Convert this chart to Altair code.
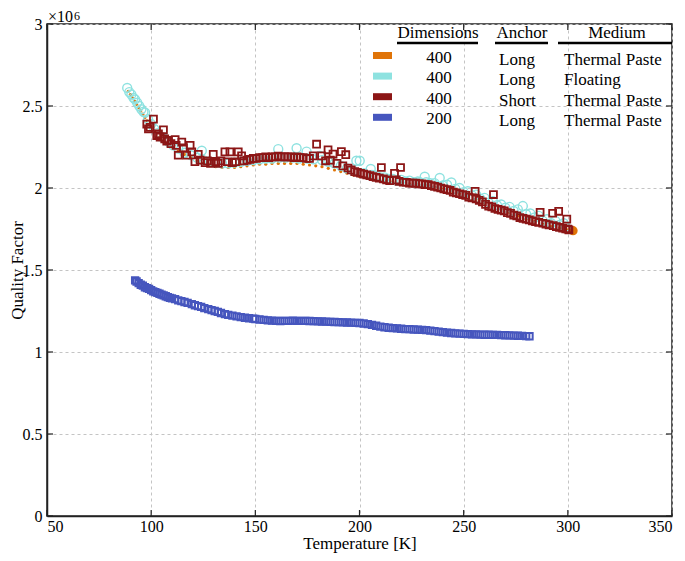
import altair as alt
import pandas as pd

# ---------------- data (Q in units of 1e6) ----------------
orange_T = [89, 90, 91, 92, 93, 94, 95, 96, 97, 98, 99, 100, 102, 104, 106, 108, 110, 113, 116, 119,
            122, 125, 128, 131, 134, 137, 140, 143, 146, 149, 152, 155, 158, 161, 164, 167, 170, 173,
            176, 179, 182, 185, 188, 191, 194, 197, 200, 204, 208, 212, 216, 220, 224, 228, 232, 236,
            240, 244, 248, 252, 256, 260, 264, 268, 272, 276, 280, 284, 288, 292, 296, 300]
orange_Q = [2.59, 2.57, 2.55, 2.53, 2.51, 2.49, 2.47, 2.45, 2.43, 2.41, 2.39, 2.37, 2.34, 2.31, 2.29,
            2.27, 2.25, 2.225, 2.205, 2.185, 2.165, 2.15, 2.14, 2.13, 2.125, 2.125, 2.125, 2.13, 2.135,
            2.14, 2.145, 2.145, 2.15, 2.15, 2.15, 2.15, 2.15, 2.145, 2.14, 2.135, 2.13, 2.12, 2.11,
            2.10, 2.09, 2.08, 2.07, 2.06, 2.05, 2.045, 2.04, 2.03, 2.025, 2.02, 2.015, 2.005, 1.995,
            1.98, 1.965, 1.95, 1.93, 1.91, 1.89, 1.87, 1.85, 1.83, 1.81, 1.795, 1.78, 1.765, 1.755, 1.745]
orange_end_T = [302.5]
orange_end_Q = [1.74]

cyan_T = [88.5, 89.5, 90.5, 91.5, 92.3, 93.3, 94.3, 95.3, 96.3, 97.1, 98.5, 100, 101.5, 103, 104.5,
          106.7, 108.5, 110.5, 113, 116, 119, 122, 124.3, 125, 128, 131, 134, 137, 140, 143, 146, 149,
          152, 155, 158, 161, 161.5, 164.5, 168, 169.8, 171, 174.6, 175, 178, 181, 182, 185, 188, 191,
          194, 197, 198.5, 200.1, 202, 205.4, 206, 210, 214, 218, 222, 226, 229, 231.3, 234, 238.5,
          240, 244.1, 246, 250, 254, 258, 262, 266, 270, 274, 278.4, 280, 284, 288, 292, 296, 299,
          208, 212, 216, 220, 224, 228, 232, 236, 242, 248, 252, 256, 260, 264, 268, 272, 276, 282,
          286, 290, 294, 298]
cyan_Q = [2.61, 2.585, 2.57, 2.55, 2.54, 2.52, 2.50, 2.48, 2.465, 2.46, 2.42, 2.39, 2.36, 2.335, 2.315,
          2.30, 2.28, 2.26, 2.24, 2.215, 2.20, 2.185, 2.227, 2.17, 2.16, 2.155, 2.15, 2.15, 2.155, 2.16,
          2.165, 2.17, 2.175, 2.18, 2.18, 2.237, 2.185, 2.185, 2.185, 2.243, 2.18, 2.222, 2.18, 2.175,
          2.196, 2.17, 2.16, 2.15, 2.135, 2.12, 2.105, 2.166, 2.166, 2.09, 2.116, 2.08, 2.065, 2.055,
          2.045, 2.04, 2.035, 2.035, 2.069, 2.03, 2.061, 2.015, 2.034, 1.995, 1.975, 1.955, 1.935,
          1.91, 1.895, 1.88, 1.86, 1.89, 1.84, 1.82, 1.80, 1.785, 1.775, 1.765,
          2.075, 2.065, 2.055, 2.05, 2.045, 2.04, 2.035, 2.03, 2.02, 2.0, 1.98, 1.96, 1.94, 1.92,
          1.90, 1.885, 1.87, 1.845, 1.83, 1.81, 1.80, 1.785]

red_T = [97.9, 98.7, 99.5, 101.1, 102.7, 103.5, 104.3, 105.9, 106.5, 107.5, 108.3, 109.5, 111.5, 112.0,
         113.0, 114.7, 115.5, 117.0, 118.7, 119.5, 121.0, 122.6, 123.5, 125.9, 127.0, 128.5, 129.8,
         131.0, 132.2, 133.5, 135.4, 136.5, 137.8, 139.0, 140.5, 141.8, 143.4, 144.5, 146.0, 147.5,
         149.0, 150.5, 152.0, 153.5, 155.0, 156.5, 158.0, 159.5, 161.0, 162.5, 164.0, 165.5, 167.0,
         168.5, 170.0, 171.5, 173.0, 174.5, 176.0, 177.8, 179.4, 181.8, 183.7, 184.9, 186.0, 187.3,
         189.2, 191.3, 192.0, 193.4, 194.5, 196.0, 197.7, 199.0, 200.5, 202.0, 203.5, 205.0, 206.5,
         208.0, 209.5, 210.5, 211.5, 213.0, 214.5, 216.8, 217.6, 219.0, 219.7, 221.0, 222.5, 224.0,
         225.5, 227.0, 228.5, 230.0, 231.5, 233.0, 234.5, 236.0, 237.5, 239.0, 240.5, 242.0, 243.5,
         245.0, 246.5, 248.0, 249.5, 251.0, 252.5, 254.0, 255.5, 256.0, 257.5, 259.0, 260.5, 262.0,
         263.5, 264.3, 265.0, 266.5, 268.0, 269.5, 271.0, 272.5, 274.0, 275.5, 277.0, 278.5, 280.0,
         281.5, 283.0, 284.5, 286.0, 286.7, 288.0, 289.5, 291.0, 292.7, 293.0, 294.5, 295.6, 296.0,
         297.5, 299.0, 299.5, 300.0, 300.5]
red_Q = [2.39, 2.36, 2.37, 2.42, 2.32, 2.33, 2.31, 2.355, 2.30, 2.285, 2.29, 2.27, 2.295, 2.26, 2.20,
         2.28, 2.245, 2.20, 2.26, 2.22, 2.16, 2.205, 2.17, 2.155, 2.165, 2.15, 2.205, 2.16, 2.15, 2.165,
         2.22, 2.16, 2.22, 2.155, 2.16, 2.22, 2.196, 2.165, 2.17, 2.175, 2.18, 2.18, 2.185, 2.185, 2.19,
         2.185, 2.19, 2.19, 2.195, 2.19, 2.19, 2.19, 2.19, 2.185, 2.19, 2.185, 2.185, 2.18, 2.18, 2.196,
         2.267, 2.196, 2.166, 2.233, 2.17, 2.207, 2.15, 2.222, 2.135, 2.203, 2.122, 2.11, 2.10, 2.095,
         2.09, 2.085, 2.08, 2.075, 2.07, 2.065, 2.06, 2.125, 2.055, 2.05, 2.045, 2.089, 2.049, 2.04,
         2.125, 2.035, 2.035, 2.03, 2.03, 2.03, 2.025, 2.025, 2.02, 2.02, 2.015, 2.01, 2.005, 2.0,
         1.995, 1.99, 1.985, 1.975, 1.97, 1.965, 1.96, 1.955, 1.945, 1.94, 1.98, 1.933, 1.925, 1.915,
         1.90, 1.89, 1.885, 1.96, 1.875, 1.87, 1.865, 1.86, 1.85, 1.845, 1.835, 1.83, 1.82, 1.815, 1.81,
         1.805, 1.80, 1.795, 1.79, 1.852, 1.785, 1.78, 1.775, 1.846, 1.77, 1.765, 1.858, 1.76, 1.755,
         1.75, 1.81, 1.75, 1.745]

blue_T = [92.3, 93, 94, 95, 96, 97, 98, 99, 100, 101, 102, 103, 104, 105, 106, 107, 108, 109, 110,
          111.5, 113, 114.5, 116, 117.5, 119.5, 121, 122.5, 124, 125.5, 127.4, 129, 130.5, 132, 133.5,
          135.4, 137, 139, 141, 143, 145, 147, 149, 150, 152, 154, 156, 158, 160, 162, 164, 166, 168,
          170, 172, 174, 176, 178, 180, 182, 184, 186, 188, 190, 192, 194, 196, 198, 200, 202, 204,
          206, 208, 210, 212, 214, 216, 218, 220, 222, 224, 226, 228, 230, 232, 234, 236, 238, 240,
          242, 244, 246, 248, 250, 252, 254, 256, 258, 260, 262, 264, 266, 268, 270, 272, 274, 276,
          278, 280, 281.6]
blue_Q = [1.437, 1.43, 1.42, 1.41, 1.405, 1.395, 1.39, 1.385, 1.377, 1.37, 1.365, 1.36, 1.355, 1.35,
          1.345, 1.34, 1.335, 1.33, 1.327, 1.322, 1.315, 1.31, 1.305, 1.30, 1.292, 1.285, 1.28, 1.275,
          1.268, 1.261, 1.255, 1.25, 1.245, 1.238, 1.231, 1.226, 1.222, 1.217, 1.213, 1.209, 1.206,
          1.203, 1.201, 1.198, 1.196, 1.193, 1.191, 1.19, 1.189, 1.19, 1.19, 1.191, 1.19, 1.19, 1.19,
          1.189, 1.188, 1.187, 1.186, 1.185, 1.184, 1.183, 1.182, 1.181, 1.18, 1.179, 1.178, 1.177,
          1.174, 1.17, 1.165, 1.16, 1.155, 1.151, 1.148, 1.146, 1.144, 1.142, 1.14, 1.139, 1.137,
          1.136, 1.135, 1.133, 1.13, 1.127, 1.124, 1.121, 1.118, 1.116, 1.114, 1.112, 1.11, 1.109,
          1.108, 1.107, 1.106, 1.105, 1.105, 1.104, 1.104, 1.103, 1.102, 1.101, 1.1, 1.099, 1.098,
          1.097, 1.096]

x_ticks = [50, 100, 150, 200, 250, 300, 350]
y_ticks = [0, 500000, 1000000, 1500000, 2000000, 2500000, 3000000]

legend_dims = ["400", "400", "400", "200"]
legend_anchor = ["Long", "Long", "Short", "Long"]
legend_medium = ["Thermal Paste", "Floating", "Thermal Paste", "Thermal Paste"]
legend_headers = ["Dimensions", "Anchor", "Medium"]

ORANGE, CYAN, RED, BLUE = "#E07408", "#8EE2E0", "#8C1616", "#4656BE"
series_colors = [ORANGE, CYAN, RED, BLUE]

# ---------------- layout / style ----------------
W, H = 625, 492
TOP = 16
FONT = "Liberation Serif"


def df(T, Q):
    return pd.DataFrame({"T": T, "Q": [q * 1e6 for q in Q]})


def xenc():
    return alt.X("T:Q", scale=alt.Scale(domain=[50, 350], nice=False, zero=False),
                 axis=alt.Axis(values=x_ticks, title="Temperature [K]", titleY=36,
                               titleBaseline="bottom", labelPadding=2,
                               labelFont=FONT, labelFontSize=16, titleFont=FONT, titleFontSize=17))


def yenc():
    return alt.Y("Q:Q", scale=alt.Scale(domain=[0, 3e6], nice=False),
                 axis=alt.Axis(values=y_ticks, title="Quality Factor",
                               labelExpr="format(datum.value / 1000000, '~g')",
                               titleX=-30, titleY=H / 2, titleAngle=-90,
                               titleBaseline="middle", titleAlign="center", labelPadding=5,
                               labelFont=FONT, labelFontSize=16, titleFont=FONT, titleFontSize=17))


orange = alt.Chart(df(orange_T, orange_Q)).mark_point(
    shape="circle", filled=True, size=10, color=ORANGE, opacity=1).encode(x=xenc(), y=yenc())
orange_end = alt.Chart(df(orange_end_T, orange_end_Q)).mark_point(
    shape="circle", filled=True, size=85, color=ORANGE, opacity=1).encode(x=xenc(), y=yenc())
cyan = alt.Chart(df(cyan_T, cyan_Q)).mark_point(
    shape="circle", filled=False, size=80, color=CYAN, strokeWidth=1.4, opacity=1).encode(x=xenc(), y=yenc())
red = alt.Chart(df(red_T, red_Q)).mark_point(
    shape="square", filled=False, size=48, color=RED, strokeWidth=1.8, opacity=1).encode(x=xenc(), y=yenc())
blue = alt.Chart(df(blue_T, blue_Q)).mark_point(
    shape="square", filled=False, size=40, color=BLUE, strokeWidth=2, opacity=1).encode(x=xenc(), y=yenc())

# inward ticks on all four sides
xt = pd.DataFrame({"T": x_ticks})
yt = pd.DataFrame({"Q": y_ticks})
tick_style = dict(color="#222222", strokeWidth=1.2)
t_bottom = alt.Chart(xt).mark_rule(**tick_style).encode(x=xenc(), y=alt.value(H), y2=alt.value(H - 6))
t_top = alt.Chart(xt).mark_rule(**tick_style).encode(x=xenc(), y=alt.value(0), y2=alt.value(6))
t_left = alt.Chart(yt).mark_rule(**tick_style).encode(y=yenc(), x=alt.value(0), x2=alt.value(6))
t_right = alt.Chart(yt).mark_rule(**tick_style).encode(y=yenc(), x=alt.value(W), x2=alt.value(W - 6))

one = pd.DataFrame({"a": [0]})

# x10^6 multiplier
mult = alt.Chart(one).mark_text(font=FONT, fontSize=16, align="left", baseline="alphabetic",
                                color="black").encode(x=alt.value(1), y=alt.value(-2.5), text=alt.value("×10"))
mult6 = alt.Chart(one).mark_text(font=FONT, fontSize=12, align="left", baseline="alphabetic",
                                 color="black").encode(x=alt.value(27), y=alt.value(-4.5), text=alt.value("6"))

# custom table legend
LH = 20.6
leg_layers = []
hdr_x = [391, 475, 570]
for h, hx in zip(legend_headers, hdr_x):
    leg_layers.append(alt.Chart(one).mark_text(font=FONT, fontSize=17, align="center",
                                               baseline="alphabetic", color="black").encode(
        x=alt.value(hx), y=alt.value(14), text=alt.value(h)))
for (x1, x2) in [(350, 431), (448, 501), (511, W)]:
    leg_layers.append(alt.Chart(one).mark_rule(color="black", strokeWidth=2.6).encode(
        x=alt.value(x1), x2=alt.value(x2), y=alt.value(19)))
for i, c in enumerate(series_colors):
    yc = 31.5 + i * LH
    leg_layers.append(alt.Chart(one).mark_rect(color=c).encode(
        x=alt.value(326), x2=alt.value(345), y=alt.value(yc - 3.5), y2=alt.value(yc + 3.5)))
leg_layers.append(alt.Chart(one).mark_text(font=FONT, fontSize=17, align="center", baseline="alphabetic",
                                           lineHeight=LH, color="black").encode(
    x=alt.value(392), y=alt.value(38.5), text=alt.value(legend_dims)))
leg_layers.append(alt.Chart(one).mark_text(font=FONT, fontSize=17, align="left", baseline="alphabetic",
                                           lineHeight=LH, color="black").encode(
    x=alt.value(452), y=alt.value(40.5), text=alt.value(legend_anchor)))
leg_layers.append(alt.Chart(one).mark_text(font=FONT, fontSize=17, align="left", baseline="alphabetic",
                                           lineHeight=LH, color="black").encode(
    x=alt.value(517), y=alt.value(40.5), text=alt.value(legend_medium)))

chart = alt.layer(
    orange, orange_end, cyan, red, blue, t_bottom, t_top, t_left, t_right, mult, mult6, *leg_layers
).properties(
    width=W, height=H,
    autosize=alt.AutoSizeParams(type="none"),
    padding={"left": 39, "top": TOP, "right": 5, "bottom": 37},
    background="white",
).configure_view(
    stroke="#222222", strokeWidth=1.5
).configure_axis(
    grid=True, gridColor="#c4c4c4", gridDash=[3, 3], gridWidth=1,
    ticks=False, domain=True, domainColor="#222222", domainWidth=1.5,
    labelFont=FONT, labelFontSize=16, labelColor="black",
    titleFont=FONT, titleFontSize=17, titleColor="black", titleFontWeight="normal",
)

chart.save("out.html", embed_options={"renderer": "svg", "actions": False})
